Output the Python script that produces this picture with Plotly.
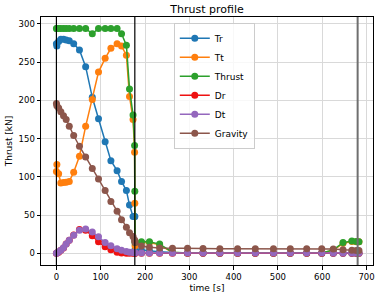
import plotly.graph_objects as go

time_s = [0, 1, 5, 10, 16, 22, 29, 39, 52, 66, 81, 95, 110, 123, 137, 147, 158, 165, 173, 176.5,
          177, 177.5, 192, 210, 233, 262, 296, 331, 369, 409, 449, 490, 528, 565, 599, 625, 647, 667, 677, 683]

tr = [274, 271, 277, 280, 280, 279, 278, 274, 266, 244, 204, 176, 146, 121, 108, 94, 82, 63, 48, 48,
      48, 5, 4, 3, 2, 1, 0.5, 0.3, 0.2, 0.1, 0.1, 0, 0, 0, 0, 0, 0, 0, 0, 0]
tt = [107, 116, 104, 92, 92.5, 93, 94, 106, 127, 166, 201, 237, 255, 268, 274, 271, 259, 205, 175, 132,
      65.5, 10, 14, 14, 11, 1, 0.3, 0.3, 0.3, 0.3, 0.3, 0.3, 0.3, 0.3, 0.3, 4, 13, 15.5, 15, 15]
thrust = [294, 294, 294, 294, 294, 294, 294, 294, 294, 294, 287, 294, 294, 294, 294, 287, 272, 215, 181, 141,
          81, 14, 15, 15, 12, 1.5, 0.5, 0.5, 0.5, 0.5, 0.5, 0.5, 0.5, 0.5, 0.5, 4.5, 14, 16, 15.5, 15]
dr = [0, 0.3, 1.5, 4, 7, 12, 17, 24, 31, 30, 23, 15, 8.5, 4.5, 1.5, 0.5, 0.2, 0.1, 0, 0,
      0, 0, 0, 0, 0, 0, 0, 0, 0, 0, 0, 0, 0, 0, 0, 0, 0, 0, 0, 0]
dt = [0, 0.5, 2, 4, 7.4, 12, 17, 23.5, 30, 31.8, 28, 21.8, 14, 10, 6, 4, 2.5, 1.5, 1, 0.8,
      0.6, 0.5, 0.3, 0.3, 0.3, 0.3, 0.3, 0.3, 0.3, 0.3, 0.3, 0.3, 0.3, 0.3, 0.3, 0.3, 0.3, 0.3, 0.3, 0.3]
gravity = [196, 193, 190, 185, 180, 175, 166, 154, 140, 126, 111, 97, 82, 67.6, 55, 44, 34, 27, 22, 17.5,
           16, 14, 9.6, 8, 7, 6.5, 6.5, 6.2, 6, 6, 6, 6, 6, 6, 6, 5.5, 4.5, 4, 3.8, 3.8]

vlines = [0, 177, 680]

series = [
    ("Tr", tr, "#1f77b4"),
    ("Tt", tt, "#ff7f0e"),
    ("Thrust", thrust, "#2ca02c"),
    ("Dr", dr, "#ee1111"),
    ("Dt", dt, "#9467bd"),
    ("Gravity", gravity, "#8c564b"),
]

fig = go.Figure()
for name, vals, col in series:
    fig.add_trace(go.Scatter(x=time_s, y=vals, name=name, mode="lines+markers",
                             line=dict(color=col, width=1.5),
                             marker=dict(color=col, size=7)))

for i, xv in enumerate(vlines):
    col = "#6f6f6f" if i == 2 else "black"
    w = 2 if i == 2 else 1.2
    fig.add_shape(type="line", xref="x", yref="paper", x0=xv, x1=xv, y0=0, y1=1,
                  line=dict(color=col, width=w), layer="above")

axis_common = dict(showgrid=True, gridcolor="#d9d9d9", gridwidth=1, zeroline=False,
                   showline=True, linecolor="black", linewidth=1, mirror=True,
                   ticks="outside", ticklen=3.5, tickcolor="black", automargin=False,
                   tickfont=dict(size=8.5, color="black"))

fig.update_xaxes(range=[-34.8, 714.7], tickvals=[0, 100, 200, 300, 400, 500, 600, 700],
                 title=dict(text="time [s]", font=dict(size=9, color="black"), standoff=3),
                 **axis_common)
fig.update_yaxes(range=[-15.3, 309], tickvals=[0, 50, 100, 150, 200, 250, 300],
                 title=dict(text="Thrust [kN]", font=dict(size=9, color="black"), standoff=4),
                 **axis_common)

fig.update_layout(
    width=378, height=295,
    margin=dict(l=41, r=5, t=17, b=30),
    paper_bgcolor="white", plot_bgcolor="white",
    font=dict(family="DejaVu Sans", color="black"),
    title=dict(text="Thrust profile", x=0.5, xref="paper", xanchor="center",
               y=1 - 9 / 295, yanchor="middle", font=dict(size=11, color="black")),
    legend=dict(x=0.40, y=0.977, xanchor="left", yanchor="top",
                bgcolor="rgba(255,255,255,0.8)", bordercolor="#cccccc", borderwidth=1,
                font=dict(size=9, color="black")),
)

fig.write_html("out.html", config={"displayModeBar": False},
               post_script="document.body.style.margin='0';document.body.style.overflow='hidden';")
